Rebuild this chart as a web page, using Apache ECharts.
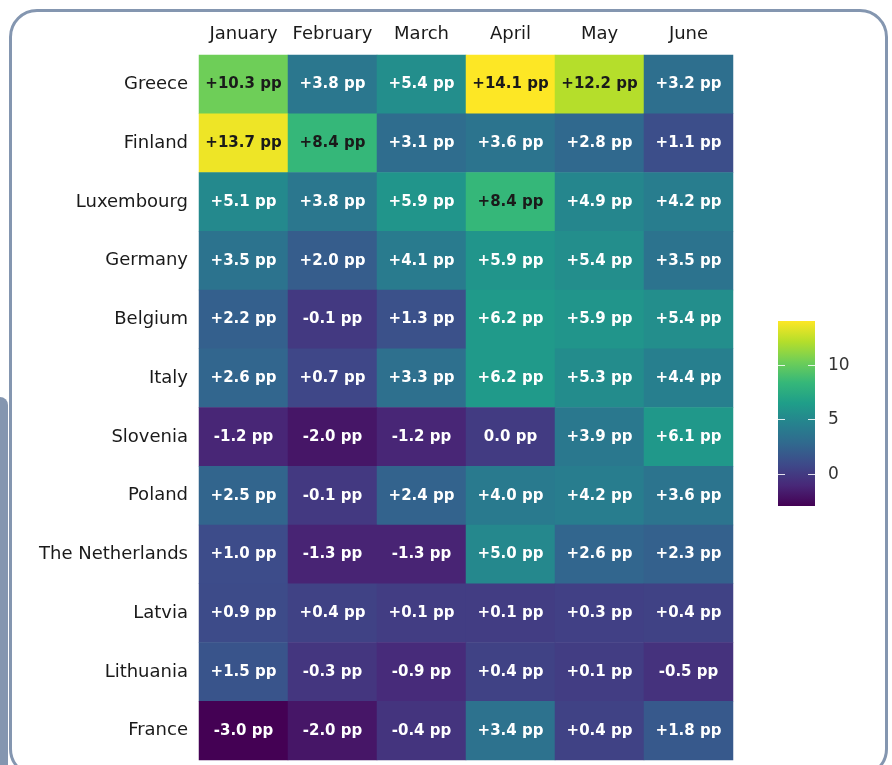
<!DOCTYPE html>
<html>
<head>
<meta charset="utf-8">
<script src="https://cdn.jsdelivr.net/npm/echarts@6/dist/echarts.min.js"></script>
<style>
  html, body { margin: 0; padding: 0; background: #fff; overflow: hidden; }
  #side { position: absolute; left: 0; top: 397px; width: 8px; height: 400px; background: #8496b0; border-top-right-radius: 8px; }
  #frame { position: absolute; left: 9px; top: 9px; width: 879px; height: 768px; border: 3px solid #8496b0; border-radius: 28px; box-sizing: border-box; }
  #main { position: absolute; left: 0; top: 0; width: 892px; height: 765px; }
</style>
</head>
<body>
<div id="side"></div>
<div id="frame"></div>
<div id="main"></div>
<script>
const months = ['January', 'February', 'March', 'April', 'May', 'June'];
const countries = ['Greece', 'Finland', 'Luxembourg', 'Germany', 'Belgium', 'Italy',
    'Slovenia', 'Poland', 'The Netherlands', 'Latvia', 'Lithuania', 'France'];

// percentage point change, one row per country, Jan..Jun
const greece      = [10.3, 3.8, 5.4, 14.1, 12.2, 3.2];
const finland     = [13.7, 8.4, 3.1, 3.6, 2.8, 1.1];
const luxembourg  = [5.1, 3.8, 5.9, 8.4, 4.9, 4.2];
const germany     = [3.5, 2.0, 4.1, 5.9, 5.4, 3.5];
const belgium     = [2.2, -0.1, 1.3, 6.2, 5.9, 5.4];
const italy       = [2.6, 0.7, 3.3, 6.2, 5.3, 4.4];
const slovenia    = [-1.2, -2.0, -1.2, 0.0, 3.9, 6.1];
const poland      = [2.5, -0.1, 2.4, 4.0, 4.2, 3.6];
const netherlands = [1.0, -1.3, -1.3, 5.0, 2.6, 2.3];
const latvia      = [0.9, 0.4, 0.1, 0.1, 0.3, 0.4];
const lithuania   = [1.5, -0.3, -0.9, 0.4, 0.1, -0.5];
const france      = [-3.0, -2.0, -0.4, 3.4, 0.4, 1.8];

const rows = [greece, finland, luxembourg, germany, belgium, italy,
    slovenia, poland, netherlands, latvia, lithuania, france];

const legendTicks = [0, 5, 10];
const vMin = -3.0, vMax = 14.1;

const viridis = ['#440154', '#482878', '#3e4989', '#31688e', '#26828e',
    '#1f9e89', '#35b779', '#6ece58', '#b5de2b', '#fde725'];

const fontFamily = 'DejaVu Sans';

const data = [];
rows.forEach((vals, r) => {
    vals.forEach((v, c) => {
        data.push({
            value: [c, r, v],
            label: {color: v > 7 ? '#1a1a1a' : '#ffffff'}
        });
    });
});

function fmt(v) {
    const s = v.toFixed(1);
    return (v > 0 ? '+' + s : s) + ' pp';
}

// colour legend drawn as a plain gradient bar with tick marks
const barLeft = 778, barTop = 321, barW = 37, barH = 185;
const legendGraphics = [{
    type: 'rect',
    shape: {x: barLeft, y: barTop, width: barW, height: barH},
    style: {
        fill: new echarts.graphic.LinearGradient(0, 1, 0, 0,
            viridis.map((c, i) => ({offset: i / (viridis.length - 1), color: c})))
    },
    z: 90
}];
legendTicks.forEach(t => {
    const y = Math.round(barTop + (vMax - t) / (vMax - vMin) * barH) + 0.5;
    legendGraphics.push(
        {type: 'line', shape: {x1: barLeft, y1: y, x2: barLeft + 7, y2: y}, style: {stroke: 'rgba(255,255,255,0.85)', lineWidth: 1}, z: 100},
        {type: 'line', shape: {x1: barLeft + barW - 7, y1: y, x2: barLeft + barW, y2: y}, style: {stroke: 'rgba(255,255,255,0.85)', lineWidth: 1}, z: 100},
        {type: 'text', x: barLeft + barW + 13, y: y, style: {text: String(t), fill: '#333', font: '17px ' + fontFamily, textVerticalAlign: 'middle'}, z: 100}
    );
});

const chart = echarts.init(document.getElementById('main'));
chart.setOption({
    backgroundColor: 'transparent',
    animation: false,
    textStyle: {fontFamily: fontFamily},
    grid: {left: 199, right: 159, top: 55, bottom: 5},
    xAxis: {
        type: 'category',
        data: months,
        position: 'top',
        axisLine: {show: false},
        axisTick: {show: false},
        splitLine: {show: false},
        axisLabel: {interval: 0, color: '#1a1a1a', fontSize: 18, margin: 12, fontFamily: fontFamily}
    },
    yAxis: {
        type: 'category',
        data: countries,
        inverse: true,
        axisLine: {show: false},
        axisTick: {show: false},
        splitLine: {show: false},
        axisLabel: {interval: 0, color: '#1a1a1a', fontSize: 18, margin: 11, fontFamily: fontFamily}
    },
    visualMap: {
        type: 'continuous',
        show: false,
        min: vMin,
        max: vMax,
        inRange: {color: viridis}
    },
    graphic: legendGraphics,
    series: [{
        type: 'heatmap',
        data: data,
        label: {
            show: true,
            fontSize: 15,
            fontWeight: 'bold',
            fontFamily: fontFamily,
            formatter: p => fmt(p.value[2])
        },
        itemStyle: {borderWidth: 0},
        emphasis: {disabled: true}
    }]
});
</script>
</body>
</html>
